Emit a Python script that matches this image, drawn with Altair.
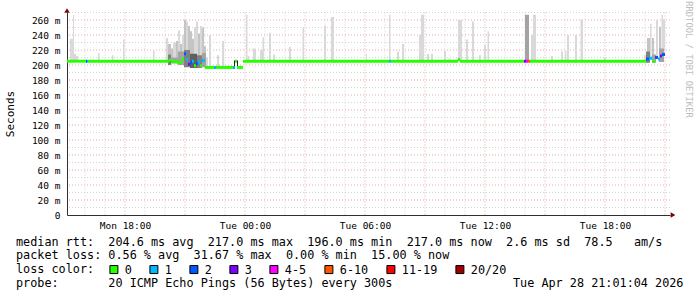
import altair as alt
import pandas as pd

MONO = "DejaVu Sans Mono"

# ---------------- data ----------------
# time axis in hours counted from Monday 00:00
tick_hours = [18, 24, 30, 36, 42]
tick_labels = ["Mon 18:00", "Tue 00:00", "Tue 06:00", "Tue 12:00", "Tue 18:00"]

# median rtt segments (ms) and packet-loss class
med_t0 = [15.1, 16.05, 16.1, 16.15, 20.2, 20.3, 20.6, 20.85, 20.95, 21.05, 21.15, 21.25, 21.35, 21.45,
          21.55, 21.65, 21.75, 21.85, 22.0, 22.45, 22.55, 23.4, 23.5, 23.6, 23.9, 31.2, 31.3, 34.65,
          34.75, 37.95, 38.05, 38.15, 38.25, 44.05, 44.2, 44.35, 44.5, 44.65, 44.75, 44.85]
med_t1 = [16.05, 16.1, 16.15, 20.2, 20.3, 20.6, 20.85, 20.95, 21.05, 21.15, 21.25, 21.35, 21.45, 21.55,
          21.65, 21.75, 21.85, 22.0, 22.45, 22.55, 23.4, 23.5, 23.6, 23.9, 31.2, 31.3, 34.65, 34.75,
          37.95, 38.05, 38.15, 38.25, 44.05, 44.2, 44.35, 44.5, 44.65, 44.75, 44.85, 45.0]
med_v = [205.1, 205.1, 205.1, 205.1, 207, 204.5, 203.5, 208, 215, 207, 201, 203, 205, 199,
         202, 204, 199, 206, 196.8, 196.8, 196.8, 196.8, 205, 196.8, 205.1, 205.1, 205.1, 207.5,
         205.1, 205.1, 205.1, 205.1, 205.1, 208, 209, 205, 210, 208, 212, 214]
med_loss = ["0", "2", "1", "0", "0", "0", "0", "0", "2", "1", "3", "2", "1", "0",
            "2", "1", "0", "1", "0", "1", "0", "1", "0", "0", "0", "1", "0", "0",
            "0", "3", "4-5", "6-10", "0", "2", "1", "0", "2", "1", "3", "2"]

# smoke spikes (max rtt) and their density level
light_t0 = [15.25, 15.40, 15.45, 15.55, 16.65, 17.35, 17.90, 19.40,
            20.05, 20.15, 20.30, 20.40, 20.55, 20.65, 20.75, 20.85, 20.95, 21.05, 21.15, 21.25, 21.35,
            21.45, 21.55, 21.65, 21.75, 21.85, 21.95, 22.05, 22.20, 22.60, 22.85,
            24.05, 24.125, 24.40, 24.75, 24.875, 25.20, 25.40, 26.20, 26.875, 27.95, 28.30,
            30.05, 31.20, 31.60, 31.85, 32.70, 32.80, 33.10, 33.30, 33.95, 34.65, 35.05, 35.35, 35.70,
            35.95, 36.125,
            38.30, 38.40, 39.30, 39.80, 40.00, 40.10, 40.50, 40.775, 41.95,
            43.95, 44.10, 44.25, 44.35, 44.55, 44.70, 44.825, 44.90]
light_t1 = [15.40, 15.45, 15.55, 15.65, 16.725, 17.425, 17.975, 19.475,
            20.15, 20.30, 20.40, 20.55, 20.65, 20.75, 20.85, 20.95, 21.05, 21.15, 21.25, 21.35, 21.45,
            21.55, 21.65, 21.75, 21.85, 21.95, 22.05, 22.15, 22.30, 22.70, 22.95,
            24.125, 24.20, 24.55, 24.90, 24.95, 25.30, 25.50, 26.30, 26.95, 28.05, 28.45,
            30.10, 31.275, 31.70, 31.95, 32.80, 32.95, 33.20, 33.40, 34.05, 34.85, 35.15, 35.45, 35.80,
            36.05, 36.20,
            38.40, 38.55, 39.40, 39.90, 40.075, 40.20, 40.60, 40.90, 42.05,
            44.05, 44.25, 44.325, 44.45, 44.65, 44.80, 44.90, 45.00]
light_hi = [235, 267, 215, 212, 216, 213, 234, 219,
            236, 228, 222, 230, 232, 246, 228, 240, 260, 258, 252, 245, 235,
            250, 258, 242, 252, 250, 225, 210, 240, 213, 232,
            267, 212, 222, 220, 237, 243, 214, 224, 250, 252, 264,
            215, 267, 218, 228, 240, 267, 215, 215, 219, 260, 234, 258, 213,
            227, 245,
            240, 267, 212, 218, 219, 240, 240, 261, 210,
            213, 236, 255, 236, 260, 251, 267, 260]
light_level = [1, 1, 1, 1, 1, 1, 1, 1,
               1, 2, 2, 1, 2, 1, 2, 1, 2, 1, 2, 2, 2,
               1, 1, 2, 1, 2, 2, 1, 1, 1, 1,
               1, 1, 1, 1, 1, 1, 1, 1, 1, 1, 1,
               1, 1, 1, 1, 1, 1, 1, 1, 1, 1, 1, 1, 1,
               1, 1,
               1, 1, 1, 1, 1, 1, 1, 1, 1,
               1, 2, 1, 2, 1, 2, 1, 1]

# denser smoke near the median (spread of the pings) with density level
dense_t0 = [20.15, 20.30, 20.65, 20.95, 21.25, 21.60, 21.85, 23.45, 23.60, 38.00, 44.05, 44.35, 44.70]
dense_t1 = [20.30, 20.65, 20.95, 21.25, 21.60, 21.85, 22.05, 23.50, 23.65, 38.20, 44.25, 44.55, 44.95]
dense_lo = [200, 202, 200, 197, 196, 196, 197, 196, 196, 205, 203, 203, 204]
dense_hi = [214, 210, 218, 220, 215, 213, 216, 206, 206, 267, 218, 214, 222]
dense_level = [4, 3, 3, 4, 5, 4, 3, 6, 6, 3, 4, 3, 3]

loss_labels = ["0", "1", "2", "3", "4-5", "6-10", "11-19", "20/20"]
loss_colors = ["#26ff00", "#00b8ff", "#0059ff", "#7e00ff", "#ff00ff", "#ff5500", "#ff0000", "#a00000"]

footer_lines = [
    "median rtt:  204.6 ms avg  217.0 ms max  196.0 ms min  217.0 ms now  2.6 ms sd  78.5   am/s",
    "packet loss: 0.56 % avg  31.67 % max  0.00 % min  15.00 % now",
    "loss color:",
    "probe:       20 ICMP Echo Pings (56 Bytes) every 300s",
]
stamp = "Tue Apr 28 21:01:04 2026"
watermark = "RRDTOOL / TOBI OETIKER"

# ---------------- layout ----------------
X0, X1 = 15.1, 45.25
W = (X1 - X0) * 20
H = 202.5
level_gray = {1: "#d9d9d9", 2: "#c4c4c4", 3: "#a3a3a3", 4: "#808080", 5: "#606060", 6: "#202020"}


def med_at(t):
    for a, b, v in zip(med_t0, med_t1, med_v):
        if a <= t < b:
            return v
    return med_v[-1]


med_df = pd.DataFrame({"t0": med_t0, "t1": med_t1, "loss": med_loss,
                       "lo": [v - 2 for v in med_v], "hi": [v + 2 for v in med_v]})
light_df = pd.DataFrame({"t0": light_t0, "t1": light_t1, "hi": light_hi,
                         "lo": [med_at((a + b) / 2) for a, b in zip(light_t0, light_t1)],
                         "shade": [level_gray[l] for l in light_level]})
dense_df = pd.DataFrame({"t0": dense_t0, "t1": dense_t1, "lo": dense_lo, "hi": dense_hi,
                         "shade": [level_gray[l] for l in dense_level]})

hours = list(range(16, 46))
vmin_df = pd.DataFrame({"h": [h for h in hours if h % 3]})
vmaj_df = pd.DataFrame({"h": [h for h in hours if h % 3 == 0]})
hmin_df = pd.DataFrame({"v": list(range(10, 271, 20))})
hmaj_df = pd.DataFrame({"v": list(range(20, 261, 20))})

xs = alt.Scale(domain=[X0, X1], nice=False, zero=False)
ys = alt.Scale(domain=[0, 270], nice=False)

label_expr = ("[" + ",".join(f"'{t}'" for t in tick_labels) + "][indexof(["
              + ",".join(str(h) for h in tick_hours) + "], datum.value)]")

x_axis = alt.Axis(values=tick_hours, labelExpr=label_expr, title=None, grid=False, ticks=False,
                  domainColor="#303030", labelFont=MONO, labelFontSize=9.5, labelColor="black",
                  labelPadding=5, labelFlush=False)
y_axis = alt.Axis(values=list(range(0, 261, 20)),
                  labelExpr="datum.value == 0 ? '0' : datum.value + ' m'",
                  title="Seconds", titleFont=MONO, titleFontSize=11, titleFontWeight="normal",
                  titleColor="black", titleX=-57, titleY=101, titleAngle=270, titleAlign="center",
                  titleBaseline="middle", grid=False, ticks=False, domainColor="#303030",
                  labelFont=MONO, labelFontSize=9.5, labelColor="black", labelPadding=7)

vmin = alt.Chart(vmin_df).mark_rule(color="#d2d2d2", strokeDash=[1, 2]).encode(
    x=alt.X("h:Q", scale=xs, axis=x_axis))
vmaj = alt.Chart(vmaj_df).mark_rule(color="#e6aaaa", strokeDash=[1, 2]).encode(
    x=alt.X("h:Q", scale=xs, axis=x_axis))
hmin = alt.Chart(hmin_df).mark_rule(color="#d2d2d2", strokeDash=[1, 2]).encode(
    y=alt.Y("v:Q", scale=ys, axis=y_axis))
hmaj = alt.Chart(hmaj_df).mark_rule(color="#e6aaaa", strokeDash=[1, 2]).encode(
    y=alt.Y("v:Q", scale=ys, axis=y_axis))


def smoke(df):
    return alt.Chart(df).mark_rect().encode(
        x=alt.X("t0:Q", scale=xs, axis=x_axis), x2="t1",
        y=alt.Y("lo:Q", scale=ys, axis=y_axis), y2="hi",
        fill=alt.Fill("shade:N", scale=None))


median = alt.Chart(med_df).mark_rect().encode(
    x=alt.X("t0:Q", scale=xs, axis=x_axis), x2="t1",
    y=alt.Y("lo:Q", scale=ys, axis=y_axis), y2="hi",
    color=alt.Color("loss:N", scale=alt.Scale(domain=loss_labels, range=loss_colors),
                    legend=alt.Legend(orient="none", legendX=41, legendY=251, direction="horizontal",
                                      title=None, symbolType="square", symbolSize=64,
                                      symbolStrokeColor="black", symbolStrokeWidth=1,
                                      symbolOpacity=1, labelFont=MONO, labelFontSize=11.8,
                                      labelColor="black", labelOffset=5, columnPadding=15,
                                      padding=0)))

one = alt.Data(values=[{}])
arrow_up = alt.Chart(one).mark_point(shape="triangle-up", filled=True, color="#7f0000",
                                     size=30, opacity=1).encode(x=alt.value(0), y=alt.value(-2))
arrow_right = alt.Chart(one).mark_point(shape="triangle-right", filled=True, color="#7f0000",
                                        size=30, opacity=1).encode(x=alt.value(W + 3), y=alt.value(H))

nb = lambda s: s.replace(" ", "\u00a0")
row_y = [229.2, 242.8, 256.8, 270.2]
texts = []
for line, yy in zip(footer_lines, row_y):
    texts.append(alt.Chart(one).mark_text(text=nb(line), font=MONO, fontSize=11.8, align="left",
                                          baseline="middle", color="black")
                 .encode(x=alt.value(-51), y=alt.value(yy)))
texts.append(alt.Chart(one).mark_text(text=nb(stamp), font=MONO, fontSize=11.8, align="left",
                                      baseline="middle", color="black")
             .encode(x=alt.value(446), y=alt.value(row_y[3])))
texts.append(alt.Chart(one).mark_text(text=nb(watermark), font=MONO, fontSize=8.8, align="center",
                                      baseline="middle", color="#bdbdbd", angle=90)
             .encode(x=alt.value(622), y=alt.value(47)))

chart = alt.layer(vmin, vmaj, hmin, hmaj, smoke(light_df), smoke(dense_df), median,
                  arrow_up, arrow_right, *texts).properties(
    width=W, height=H, background="white",
    autosize=alt.AutoSizeParams(type="none"),
    padding={"left": 67, "top": 12.5, "right": 27, "bottom": 82},
).configure_view(stroke=None)

chart.save("out.html", embed_options={"renderer": "svg", "actions": False})
